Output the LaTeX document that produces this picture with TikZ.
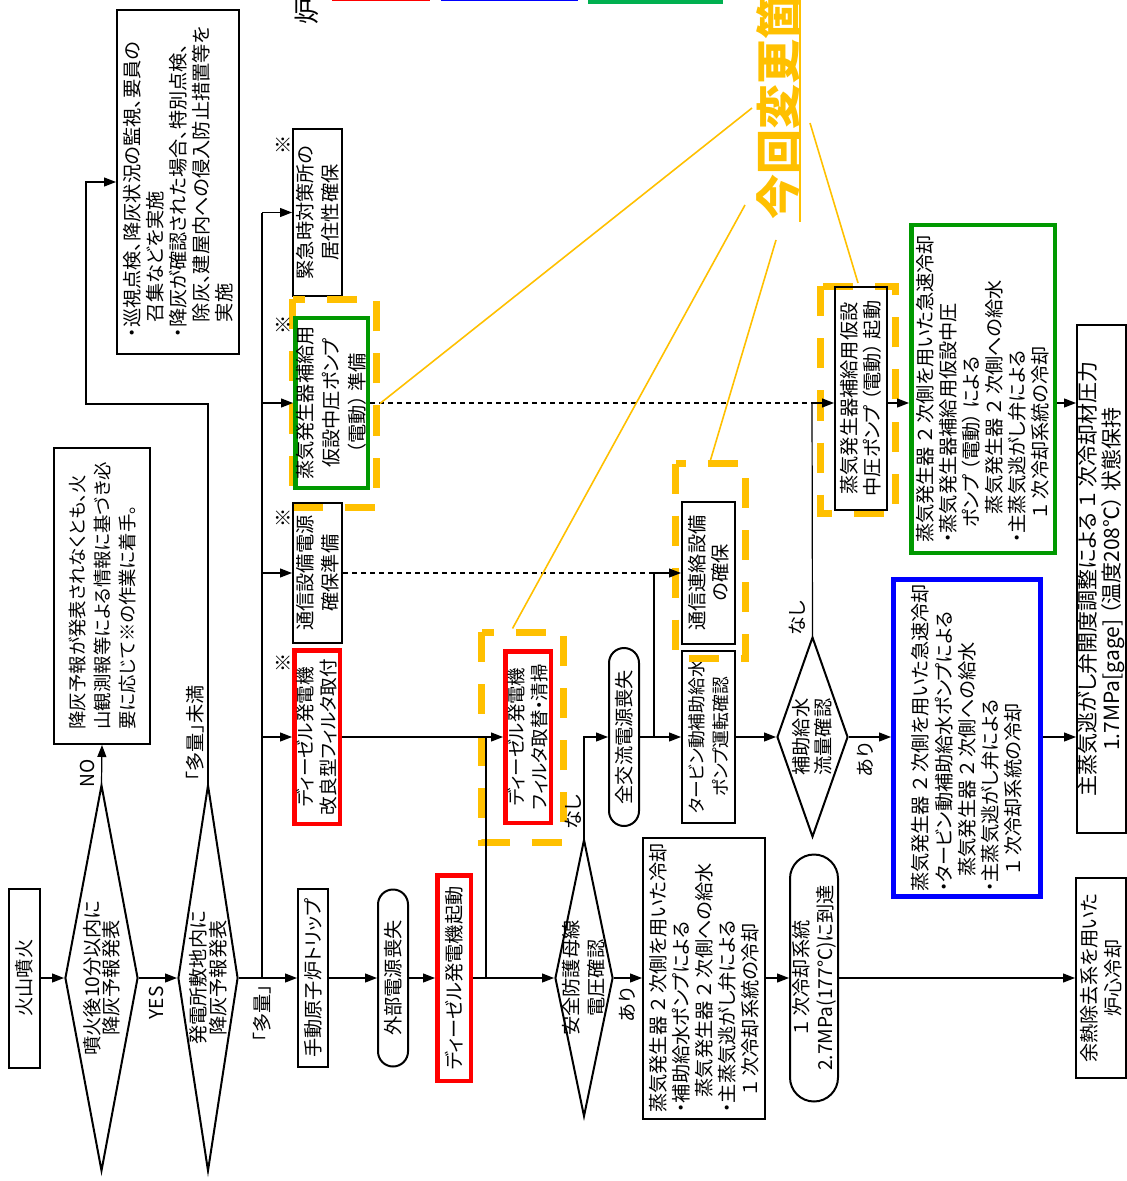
\documentclass[tikz,border=0pt]{standalone}
\usepackage{fontspec}
\setmainfont[RawFeature=+palt]{Noto Sans CJK JP}
\usetikzlibrary{shapes.geometric,arrows.meta}

\definecolor{chgor}{RGB}{255,192,0}
\definecolor{dgred}{RGB}{255,0,0}
\definecolor{blbox}{RGB}{0,0,255}
\definecolor{grbox}{RGB}{0,153,0}
\definecolor{lgnd}{RGB}{0,176,80}

\newcommand\jfs[1]{\fontsize{9.6}{#1}\selectfont}

\begin{document}
\begin{tikzpicture}[
    x=0.5pt, y=-0.5pt,
    font=\jfs{11.75pt},
    every node/.style={rotate=90, inner sep=0pt},
    box/.style    ={draw, line width=1pt, align=center},
    lbox/.style   ={draw, line width=1pt, align=left},
    pill/.style   ={draw, line width=1pt, rounded corners=#1, align=center},
    redbox/.style ={draw=dgred, line width=2.25pt, align=center},
    dia/.style    ={draw, line width=1pt, diamond},
    odash/.style  ={draw=chgor, line width=3.5pt, dash pattern=on 15pt off 11pt},
    arr/.style    ={line width=0.6pt, -{Triangle[length=6pt,width=4.5pt]}},
    conn/.style   ={line width=0.6pt},
    dconn/.style  ={line width=0.6pt, dash pattern=on 2.5pt off 2pt},
    lead/.style   ={chgor, line width=0.8pt},
  ]
  \useasboundingbox (0,0) rectangle (1127,1181);
  \clip (0,0) rectangle (1127,1181);

  % ---- rows: main line, second line ----
  \def\yM{978} \def\yR{737}

  % ---- cut-off legend at the top edge ----
  \node[font=\fontsize{13}{14}\selectfont] (ro) at (307,12) {炉};
  \draw[dgred, line width=0.8pt] (333,-40) rectangle (429,0.5);
  \draw[blbox, line width=0.8pt] (442,-40) rectangle (577,0.5);
  \draw[lgnd, line width=2.25pt] (590,-40) rectangle (721,1.5);

  % ---- main row ----
  \node[box, minimum width=89.5pt, minimum height=15.5pt] (funka) at (24.5,\yM) {火山噴火};
  \node[dia, minimum width=193pt, minimum height=36.5pt] (d1) at (101.5,\yM) {};
  \node[align=center, font=\jfs{9.4pt}] (d1t) at (d1) {噴火後10分以内に\\降灰予報発表};
  \node[dia, minimum width=193pt, minimum height=30pt] (d2) at (208,\yM) {};
  \node[align=center, font=\jfs{10pt}] (d2t) at (d2) {発電所敷地内に\\降灰予報発表};
  \node[box, minimum width=89pt, minimum height=15pt] (trip) at (313,\yM) {手動原子炉トリップ};
  \node[pill=7.5pt, minimum width=88.5pt, minimum height=15pt] (gaibu) at (393,\yM) {外部電源喪失};
  \node[redbox, minimum width=102.75pt, minimum height=16.75pt] (dgs) at (454,\yM) {ディーゼル発電機起動};
  \node[dia, minimum width=138.5pt, minimum height=29pt] (d3) at (584,\yM) {};
  \node[align=center, font=\jfs{12.5pt}] (d3t) at (d3) {安全防護母線\\電圧確認};
  \node[lbox, minimum width=140.5pt, minimum height=61pt, font=\jfs{11.5pt}] (cool1) at (704,\yM)
    {蒸気発生器 ２ 次側を用いた冷却\\・補助給水ポンプによる\\\hspace*{0.8em}蒸気発生器 ２ 次側への給水\\・主蒸気逃がし弁による\\\hspace*{0.9em}１ 次冷却系統の冷却};
  \node[pill=12pt, minimum width=123.5pt, minimum height=24pt, font=\jfs{12pt}] (st1) at (814,\yM) {１ 次冷却系統\\2.7MPa(177℃)に到達};
  \node[box, minimum width=100pt, minimum height=25pt, font=\jfs{12pt}] (yonetsu) at (1101,\yM) {余熱除去系を用いた\\炉心冷却};

  % ---- second row ----
  \node[redbox, minimum width=86.75pt, minimum height=22.75pt, font=\fontsize{9.3}{11.75}\selectfont] (kairyo) at (317,\yR) {ディーゼル発電機\\改良型フィルタ取付};
  \node[odash, minimum width=105pt, minimum height=41pt] (fdash) at (522.5,\yR) {};
  \node[redbox, minimum width=85.75pt, minimum height=22.75pt, font=\fontsize{9.2}{11.75}\selectfont] (filt) at (528,\yR) {ディーゼル発電機\\フィルタ取替・清掃};
  \node[pill=7.5pt, minimum width=89pt, minimum height=15pt] (zenko) at (624,\yR) {全交流電源喪失};
  \node[box, minimum width=86pt, minimum height=26.5pt, font=\fontsize{8.9}{11.75}\selectfont] (turb) at (708.5,\yR) {タービン動補助給水\\ポンプ運転確認};
  \node[dia, minimum width=100pt, minimum height=35.5pt] (d4) at (812.5,\yR) {};
  \node[align=center, font=\jfs{11pt}] (d4t) at (d4) {補助給水\\流量確認};
  \node[lbox, draw=blbox, line width=2.5pt, minimum width=158.5pt, minimum height=73.5pt, font=\jfs{11.65pt}] (blue) at (967,738)
    {蒸気発生器 ２ 次側を用いた急速冷却\\・タービン動補助給水ポンプによる\\\hspace*{0.8em}蒸気発生器 ２ 次側への給水\\・主蒸気逃がし弁による\\\hspace*{0.9em}１ 次冷却系統の冷却};

  % ---- upper part ----
  \node[lbox, minimum width=148pt, minimum height=48pt, font=\fontsize{9.2}{12.5}\selectfont] (nobox) at (102,596)
    {降灰予報が発表されなくとも、火\\山観測報等による情報に基づき必\\要に応じて※の作業に着手。};
  \node[lbox, minimum width=172pt, minimum height=61pt, font=\jfs{11.5pt}] (subbox) at (178,182)
    {・巡視点検、降灰状況の監視、要員の\\\hspace*{0.8em}召集などを実施\\・降灰が確認された場合、特別点検、\\\hspace*{0.8em}除灰、建屋内への侵入防止措置等を\\\hspace*{0.8em}実施};
  \node[box, minimum width=83.5pt, minimum height=24.5pt, font=\jfs{12.5pt}] (kinkyu) at (317.5,212.5) {緊急時対策所の\\居住性確保};
  \node[odash, minimum width=104pt, minimum height=42pt] (gdash) at (334.5,403.5) {};
  \node[draw=grbox, line width=2.25pt, align=center, minimum width=84.75pt, minimum height=36.25pt, font=\jfs{13pt}] (grsm) at (331.5,403)
    {蒸気発生器補給用\\仮設中圧ポンプ\\（電動） 準備};
  \node[box, minimum width=70pt, minimum height=24.5pt, font=\jfs{12.5pt}] (tsud) at (317.5,573) {通信設備電源\\確保準備};
  \node[odash, minimum width=97.5pt, minimum height=35pt] (rdash) at (710.5,561) {};
  \node[box, minimum width=71pt, minimum height=26.5pt] (renr) at (708.5,573) {通信連絡設備\\の確保};
  \node[odash, minimum width=113.5pt, minimum height=37.5pt] (kdash) at (858,400) {};
  \node[box, minimum width=111.5pt, minimum height=26pt] (kido) at (861,398.5) {蒸気発生器補給用仮設\\中圧ポンプ （電動） 起動};
  \node[lbox, draw=grbox, line width=2.25pt, minimum width=163.75pt, minimum height=71.75pt, font=\jfs{11.5pt}] (grbig) at (983,389)
    {蒸気発生器 ２ 次側を用いた急速冷却\\・蒸気発生器補給用仮設中圧\\\hspace*{0.8em}ポンプ （電動） による\\\hspace*{1.5em}蒸気発生器 ２ 次側への給水\\・主蒸気逃がし弁による\\\hspace*{1.3em}１ 次冷却系統の冷却};
  \node[box, minimum width=254pt, minimum height=24.5pt, font=\fontsize{10.5}{12}\selectfont] (atsu) at (1101.5,579)
    {主蒸気逃がし弁開度調整による １ 次冷却材圧力\\1.7MPa[gage] （温度208℃） 状態保持};

  % ---- marks and branch labels ----
  \foreach \y/\n in {145/a, 325/b, 518/c, 663/d} \node (kome\n) at (283,\y) {※};
  \node (yes)   at (156,1003) {YES};
  \node (no)    at (87,773) {NO};
  \node (taryo) at (262,1013) {「多量」};
  \node (mima)  at (195,733) {「多量」未満};
  \node (nashiA) at (573,812) {なし};
  \node (ariA)   at (627,1005) {あり};
  \node (nashiB) at (797,618) {なし};
  \node (ariB)   at (865,760) {あり};

  % ---- main line connectors ----
  \draw[arr] (funka.south) -- (d1.north);
  \draw[arr] (d1.south) -- (d2.north);
  \draw[arr] (d2.south) -- (trip.north);
  \draw[arr] (trip.south) -- (gaibu.north);
  \draw[arr] (gaibu.south) -- (dgs.north);
  \draw[arr] (dgs.south) -- (d3.north);
  \draw[arr] (d3.south) -- (cool1.north);
  \draw[arr] (cool1.south) -- (st1.north);
  \draw[arr] (st1.south) -- (yonetsu.north);

  % ---- NO branch and "未満" branch ----
  \coordinate (ret) at (86,404);
  \draw[arr] (d1.east) -- (nobox.west);
  \draw[arr] (d2.east) |- (ret) |- (subbox.north);

  % ---- bus to the preparation boxes ----
  \coordinate (bus) at (262,\yM);
  \coordinate (bustop) at (262,213);
  \draw[conn] (bus) -- (bustop);
  \foreach \n in {kinkyu, grsm, tsud, kairyo} \draw[arr] (bus |- \n) -- (\n.north);

  % ---- second row connectors ----
  \coordinate (jd) at (486,\yR);
  \coordinate (jt) at (654,\yR);
  \draw[conn] (jd |- dgs) -- (jd);
  \draw[arr] (kairyo.south) -- (filt.north);
  \draw[arr] (d3.east) |- (zenko.north);
  \draw[arr] (zenko.south) -- (turb.north);
  \draw[dconn] (tsud.south) -- (tsud.south -| jt);
  \draw[arr] (jt) |- (renr.north);
  \draw[arr] (turb.south) -- (d4.north);
  \draw[arr] (d4.south) -- (d4.south -| blue.north);
  \draw[arr] (blue.south |- d4) -- (d4 -| atsu.north);

  % ---- upper right connectors ----
  \coordinate (jk) at (812,403);
  \draw[conn] (d4.east) -- (jk);
  \draw[dconn] (grsm.south) -- (jk);
  \draw[arr] (jk) -- (jk -| kido.north);
  \draw[arr] (jk -| kido.south) -- (jk -| grbig.north);
  \draw[arr] (jk -| grbig.south) -- (jk -| atsu.north);

  % ---- changed items: title and leaders ----
  \node[anchor=west, text=chgor, font=\fontsize{22.5}{24}\selectfont\bfseries] (kaisen) at (778,220) {今回変更箇所};
  \draw[lead] (800,222) -- (800,-10);
  \coordinate (k1) at (752,108);
  \coordinate (k2) at (745,205);
  \coordinate (k3) at (776,240);
  \coordinate (k4) at (810,123);
  \draw[lead] (k1) -- (gdash.south);
  \draw[lead] (k2) -- ([xshift=-5pt]fdash.east);
  \draw[lead] (k3) -- (rdash.east);
  \draw[lead] (k4) -- (kdash.east);
\end{tikzpicture}
\end{document}
